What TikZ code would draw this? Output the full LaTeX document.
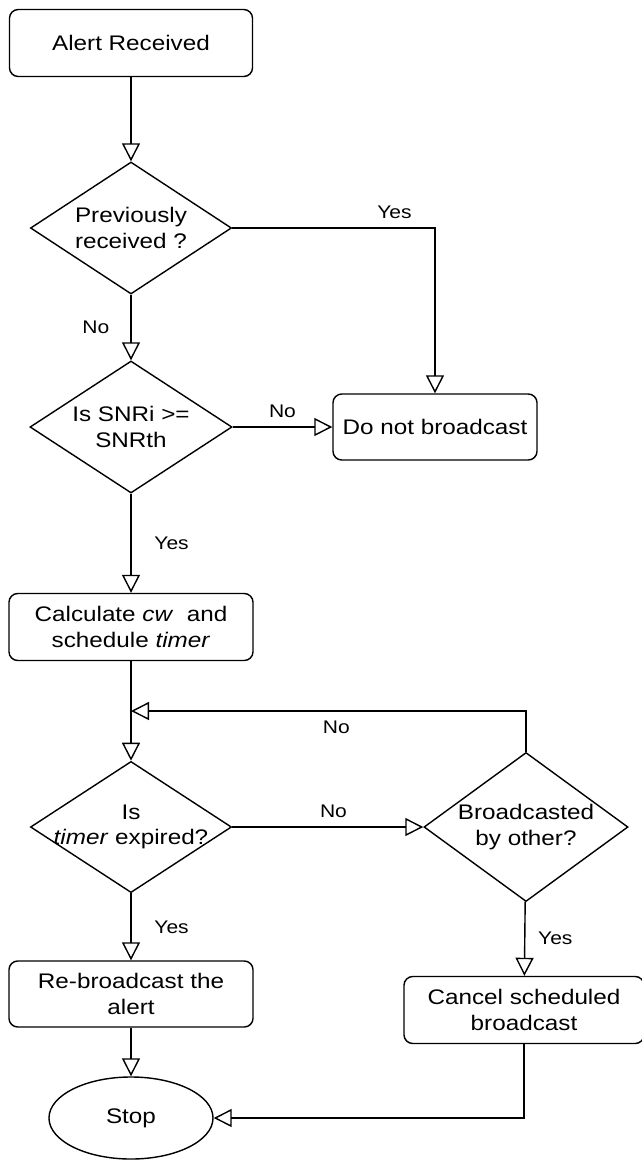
\documentclass[tikz,border=0pt]{standalone}
\usepackage{fontspec}
\setmainfont{Liberation Sans}[FakeStretch=1.15]
\usetikzlibrary{shapes.geometric,arrows.meta,positioning}

\tikzset{
  block/.style={draw, rounded corners=0.22cm, line width=1pt, align=center,
    inner sep=0pt, font=\fontsize{15}{18}\selectfont},
  decision/.style={draw, diamond, aspect=1.5, line width=1pt, align=center,
    inner xsep=-0.3cm, inner ysep=0pt, font=\fontsize{15}{18}\selectfont},
  terminal/.style={draw, ellipse, line width=1pt, inner sep=0pt,
    font=\fontsize{15}{18}\selectfont},
  flow/.style={line width=1pt, -{Triangle[open, length=0.45cm, width=0.45cm]}},
  lbl/.style={font=\fontsize{13}{15}\selectfont}
}

\begin{document}
\begin{tikzpicture}[x=0.025cm, y=-0.025cm]
    \useasboundingbox (0,0) rectangle (642,1160);

    % Main column
    \node[block, minimum width=6.075cm, minimum height=1.675cm] (alert) at (131,43) {Alert Received};
    \node[decision, minimum width=5.025cm, minimum height=3.3cm] (prev) at (131,228) {Previously\\received ?};
    \node[decision, minimum width=5.05cm, minimum height=3.3cm] (snr) at (131,427) {Is SNRi >=\\SNRth};
    \node[block, minimum width=6.1cm, minimum height=1.675cm] (calc) at (131,627) {Calculate \textit{cw}~ and\\schedule \textit{timer}};
    \node[decision, minimum width=5.025cm, minimum height=3.275cm] (expired) at (131,827) {Is\\\textit{timer} expired?};
    \node[block, minimum width=6.1cm, minimum height=1.65cm] (rebc) at (131,994) {Re-broadcast the\\alert};
    \node[terminal, minimum width=4.1cm, minimum height=2.05cm] (stop) at (131,1118) {Stop};

    % Right column
    \node[block, minimum width=5.1cm, minimum height=1.65cm] (nobc) at (435,427) {Do not broadcast};
    \node[decision, minimum width=5.1cm, minimum height=3.725cm] (other) at (526,827) {Broadcasted\\by other?};
    \node[block, minimum width=6.0cm, minimum height=1.675cm] (cancel) at (524,1010) {Cancel scheduled\\broadcast};

    \coordinate (join) at (131,711);

    % Connectors
    \draw[flow] (alert) -- (prev);
    \draw[flow] (prev.east) -| (nobc.north) node[lbl, pos=0.4, above=3pt] {Yes};
    \draw[flow] (prev) -- (snr) node[lbl, midway, left=0.41cm] {No};
    \draw[flow] (snr) -- (nobc) node[lbl, midway, above=3pt] {No};
    \draw[flow] (snr) -- (calc) node[lbl, midway, right=0.45cm] {Yes};
    \draw[flow] (calc) -- (expired);
    \draw[flow] (other.north) |- (join) node[lbl, pos=0.74, below=3pt] {No};
    \draw[flow] (expired) -- (other) node[lbl, pos=0.53, above=3pt] {No};
    \draw[flow] (expired) -- (rebc) node[lbl, midway, right=0.45cm] {Yes};
    \draw[flow] (other) -- (cancel) node[lbl, midway, right=0.2cm] {Yes};
    \draw[flow] (rebc) -- (stop);
    \draw[flow] (cancel.south) |- (stop.east);

\end{tikzpicture}
\end{document}
